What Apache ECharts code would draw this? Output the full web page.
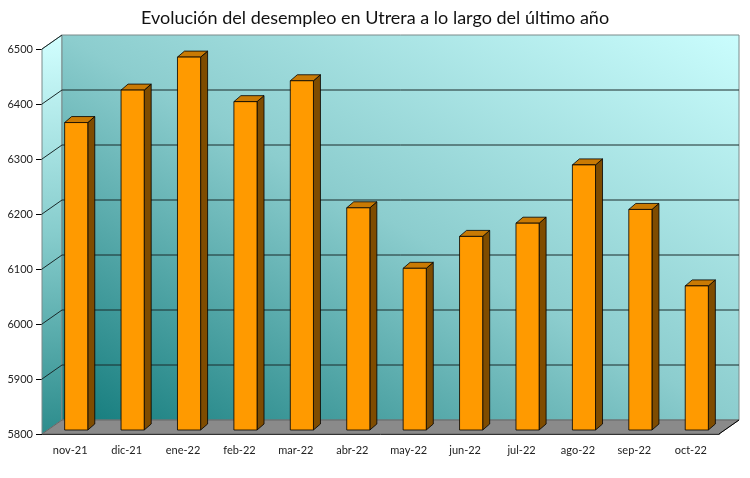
<!DOCTYPE html>
<html>
<head>
<meta charset="utf-8">
<script src="https://cdn.jsdelivr.net/npm/echarts@6/dist/echarts.min.js"></script>
<style>
  html, body { margin: 0; padding: 0; background: #fff; }
  #chart { width: 750px; height: 478px; }
</style>
</head>
<body>
<div id="chart"></div>
<script>
// datos del paro registrado en Utrera
var categories = ["nov-21", "dic-21", "ene-22", "feb-22", "mar-22", "abr-22", "may-22", "jun-22", "jul-22", "ago-22", "sep-22", "oct-22"];
var parados = [6359, 6418, 6478, 6397, 6435, 6204, 6094, 6152, 6176, 6282, 6201, 6062];
var yTicks = [5800, 5900, 6000, 6100, 6200, 6300, 6400, 6500];

// profundidad de las paredes y de las columnas (px)
var DX = 20, DY = -14;
var BX = 6, BY = -4;
var CX = 7, CY = -6;

var chart = echarts.init(document.getElementById('chart'));

// paredes, suelo y lineas de division
function renderWalls(params, api) {
  var cs = params.coordSys;
  var x = cs.x, y = cs.y, w = cs.width, h = cs.height;
  // degradado del fondo: oscuro abajo-izq, claro arriba-der (isolineas en la otra diagonal)
  var bx = x + DX, by = y + DY;
  var cx = bx + w / 2, cy = by + h / 2;
  var n = Math.sqrt(w * w + h * h);
  var ux = h / n, uy = -w / n, L = w * h / n;
  var children = [];
  // pared izquierda
  children.push({
    type: 'polygon',
    shape: { points: [[x, y], [x + DX, y + DY], [x + DX, y + h + DY], [x, y + h]] },
    style: {
      fill: new echarts.graphic.LinearGradient(0, 0, 1, 1, [
        { offset: 0, color: '#d2ffff' },
        { offset: 0.5, color: '#86cccc' },
        { offset: 1, color: '#2c8c8c' }
      ]),
      stroke: '#7a8a8a', lineWidth: 1
    }
  });
  // pared del fondo
  children.push({
    type: 'rect',
    shape: { x: bx, y: by, width: w, height: h },
    style: {
      fill: new echarts.graphic.LinearGradient(cx - ux * L, cy - uy * L, cx + ux * L, cy + uy * L, [
        { offset: 0, color: '#137b7c' },
        { offset: 0.5, color: '#8ccdce' },
        { offset: 1, color: '#cafdfd' }
      ], true),
      stroke: '#7a8a8a', lineWidth: 1
    }
  });
  // suelo
  children.push({
    type: 'polygon',
    shape: { points: [[x, y + h], [x + DX, y + h + DY], [x + w + DX, y + h + DY], [x + w, y + h]] },
    style: { fill: '#8a8a8a', stroke: '#666', lineWidth: 1 }
  });
  // lineas de division
  yTicks.forEach(function (v) {
    if (v === yTicks[0]) return;
    var py = api.coord([0, v])[1];
    children.push({
      type: 'line',
      shape: { x1: x, y1: py, x2: x + DX, y2: py + DY },
      style: { stroke: '#1a2a2a', lineWidth: 1 }
    });
    if (v !== yTicks[yTicks.length - 1]) {
      children.push({
        type: 'line',
        shape: { x1: x + DX, y1: py + DY, x2: x + w + DX, y2: py + DY },
        style: { stroke: '#1a2a2a', lineWidth: 1 }
      });
    }
  });
  // borde derecho del suelo
  children.push({
    type: 'line',
    shape: { x1: x + w, y1: y + h, x2: x + w + DX, y2: y + h + DY },
    style: { stroke: '#000', lineWidth: 1 }
  });
  return { type: 'group', silent: true, children: children };
}

// columnas 3D
function renderBar(params, api) {
  var top = api.coord([api.value(0), api.value(1)]);
  var base = api.coord([api.value(0), yTicks[0]]);
  var bw = api.size([1, 0])[0] * 0.41;
  var xl = top[0] - bw / 2 + BX, xr = xl + bw;
  var yt = top[1] + BY, yb = base[1] + BY;
  var line = { stroke: '#000', lineWidth: 0.8 };
  return {
    type: 'group',
    children: [
      {
        type: 'polygon',
        shape: { points: [[xr, yt], [xr + CX, yt + CY], [xr + CX, yb + CY], [xr, yb]] },
        style: Object.assign({ fill: '#7f4c00' }, line)
      },
      {
        type: 'polygon',
        shape: { points: [[xl, yt], [xl + CX, yt + CY], [xr + CX, yt + CY], [xr, yt]] },
        style: Object.assign({ fill: '#c97a04' }, line)
      },
      {
        type: 'rect',
        shape: { x: xl, y: yt, width: bw, height: yb - yt },
        style: Object.assign({ fill: '#ff9a00' }, line)
      }
    ]
  };
}

var option = {
  animation: false,
  title: {
    text: 'Evolución del desempleo en Utrera a lo largo del último año',
    left: 'center',
    top: 4,
    textStyle: { fontFamily: 'Lato', fontSize: 18, fontWeight: 'normal', color: '#111' }
  },
  grid: { left: 42, right: 31, top: 49, bottom: 44 },
  xAxis: {
    type: 'category',
    data: categories,
    axisLine: { lineStyle: { color: '#000', width: 1 } },
    axisTick: { length: 5, lineStyle: { color: '#000' } },
    axisLabel: { margin: 11, fontSize: 11, fontFamily: 'Lato', color: '#222' }
  },
  yAxis: {
    type: 'value',
    min: 5800,
    max: 6500,
    interval: 100,
    axisLine: { show: true, lineStyle: { color: '#000', width: 1 } },
    axisTick: { show: true, length: 6, lineStyle: { color: '#000' } },
    splitLine: { show: false },
    axisLabel: {
      margin: 9, fontSize: 11, fontFamily: 'Lato', color: '#222',
      formatter: function (v) { return String(v); }
    }
  },
  series: [
    {
      type: 'custom',
      renderItem: renderWalls,
      data: [[0, yTicks[0]]],
      z: 1,
      silent: true
    },
    {
      type: 'custom',
      renderItem: renderBar,
      data: parados.map(function (v, i) { return [i, v]; }),
      z: 2
    }
  ]
};
chart.setOption(option);
</script>
</body>
</html>
